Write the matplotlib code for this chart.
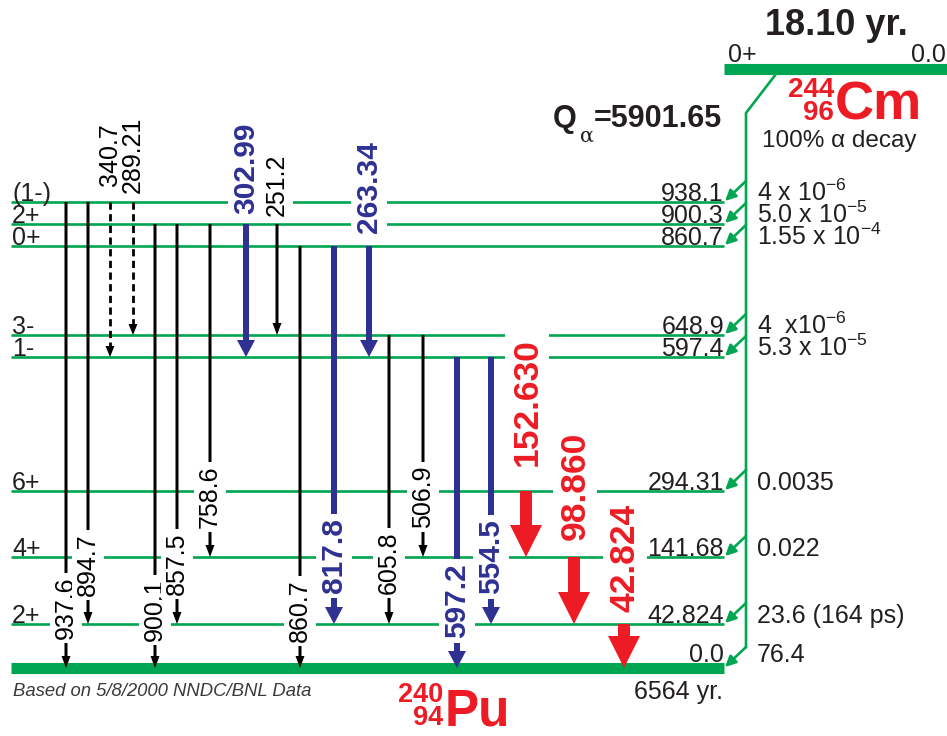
import matplotlib.pyplot as plt

plt.rcParams['font.family'] = ['Liberation Sans', 'DejaVu Sans']
plt.rcParams['mathtext.fontset'] = 'custom'
plt.rcParams['mathtext.rm'] = 'Liberation Sans'
plt.rcParams['mathtext.it'] = 'Liberation Sans:italic'
plt.rcParams['mathtext.bf'] = 'Liberation Sans:bold'

# Level data (240Pu)
level_energy = ['938.1', '900.3', '860.7', '648.9', '597.4', '294.31', '141.68', '42.824', '0.0']
level_spin = ['(1-)', '2+', '0+', '3-', '1-', '6+', '4+', '2+', '']
alpha_branch = ['4 x 10$^{-6}$', '5.0 x 10$^{-5}$', '1.55 x 10$^{-4}$', '4  x10$^{-6}$',
                '5.3 x 10$^{-5}$', '0.0035', '0.022', '23.6 (164 ps)', '76.4']

# Gamma transitions
gamma_energy = ['937.6', '894.7', '340.7', '289.21', '900.1', '857.5', '758.6', '302.99', '251.2',
                '860.7', '817.8', '263.34', '605.8', '506.9', '597.2', '554.5', '152.630', '98.860', '42.824']
gamma_from = [0, 0, 0, 0, 1, 1, 1, 1, 1, 2, 2, 2, 3, 3, 4, 4, 5, 6, 7]
gamma_to = [8, 7, 4, 3, 8, 7, 6, 4, 3, 8, 7, 4, 7, 6, 8, 7, 6, 7, 8]
gamma_kind = ['weak', 'weak', 'dashed', 'dashed', 'weak', 'weak', 'weak', 'medium', 'weak',
              'weak', 'medium', 'medium', 'weak', 'weak', 'medium', 'medium', 'strong', 'strong', 'strong']

# Layout (pixel positions of the schematic)
level_y = [202, 224, 246, 335, 357, 491, 557, 624, 668]
gamma_x = [66, 88, 110, 133, 155, 177, 210, 246, 277, 300, 334, 369, 389, 423, 457, 491, 526, 574, 624]
label_y = [608, 565, 155, 155, 610, 564, 497, 168, 185, 611, 556, 187, 563, 497, 601, 557, 402, 486, 558]

green = '#00a651'
red = '#ed1c24'
blue = '#2e3192'
ink = '#231f20'
fs = 18

styles = {
    'weak': dict(color='black', width=3, head_w=9, head_l=12, size=fs, weight='normal'),
    'dashed': dict(color='black', width=2.6, head_w=9, head_l=11, size=fs, weight='normal'),
    'medium': dict(color=blue, width=6, head_w=18, head_l=17, size=21.5, weight='bold'),
    'strong': dict(color=red, width=12, head_w=32, head_l=32, size=25.5, weight='bold'),
}

fig = plt.figure(figsize=(9.47, 7.36), dpi=100)
ax = fig.add_axes([0, 0, 1, 1])
ax.set_xlim(0, 947)
ax.set_ylim(736, 0)
ax.axis('off')

x_left, x_right = 11, 724

# levels
for i, y in enumerate(level_y):
    lw = 8 if level_energy[i] == '0.0' else 1.9
    ax.plot([x_left, x_right], [y, y], color=green, lw=lw, solid_capstyle='butt', zorder=1)
    base = y - 6 if level_energy[i] == '0.0' else y - 1
    ax.text(x_right, base, level_energy[i], ha='right', va='baseline', fontsize=fs, color=ink, zorder=2)
    ax.text(12, base, level_spin[i], ha='left', va='baseline', fontsize=fs, color=ink, zorder=2)
    ax.text(757, base, alpha_branch[i], ha='left', va='baseline', fontsize=fs, color=ink, zorder=2)

# gamma rays
for k in range(len(gamma_energy)):
    st = styles[gamma_kind[k]]
    x = gamma_x[k]
    y0 = level_y[gamma_from[k]]
    y1 = level_y[gamma_to[k]]
    if gamma_kind[k] == 'dashed':
        ax.plot([x, x], [y0, y1 - st['head_l']], color='black', lw=2.0,
                linestyle=(0, (2.6, 1.6)), zorder=3)
        ax.arrow(x, y1 - st['head_l'], 0, st['head_l'], width=0.1, head_width=st['head_w'],
                 head_length=st['head_l'], length_includes_head=True, fc='black', ec='none', zorder=3)
    else:
        ax.arrow(x, y0, 0, y1 - y0, width=st['width'], head_width=st['head_w'],
                 head_length=st['head_l'], length_includes_head=True,
                 fc=st['color'], ec='none', zorder=3)
    lx = x + 1 if gamma_kind[k] == 'strong' else x
    ax.text(lx, label_y[k], gamma_energy[k], rotation=90, ha='center', va='center',
            fontsize=st['size'], fontweight=st['weight'], color=st['color'], zorder=4,
            bbox=dict(boxstyle='square,pad=0.15', fc='white', ec='none'))

# parent level 244Cm
ax.plot([x_right, 947], [68.5, 68.5], color=green, lw=8, solid_capstyle='butt', zorder=1)
ax.text(728, 62, '0+', ha='left', va='baseline', fontsize=fs, color=ink)
ax.text(946, 62, '0.0', ha='right', va='baseline', fontsize=fs, color=ink)
ax.text(836, 35, '18.10 yr.', ha='center', va='baseline', fontsize=26, fontweight='bold', color=ink)

# alpha feeding line
feed_x = 746
ax.plot([776, feed_x, feed_x], [74, 113, level_y[-1] - 21], color=green, lw=1.9, zorder=2)
for y in level_y:
    ax.annotate('', xy=(x_right + 1, y - 1), xytext=(feed_x, y - 21),
                arrowprops=dict(arrowstyle='-|>,head_length=0.45,head_width=0.22', color=green,
                                lw=1.9, shrinkA=0, shrinkB=0, mutation_scale=14), zorder=2)

# nuclide labels
ax.text(834, 97, '244', ha='right', va='baseline', fontsize=20, fontweight='bold', color=red)
ax.text(834, 120, '96', ha='right', va='baseline', fontsize=20, fontweight='bold', color=red)
ax.text(835, 120, 'Cm', ha='left', va='baseline', fontsize=39, fontweight='bold', color=red)
ax.text(762, 147, '100% \u03b1 decay', ha='left', va='baseline', fontsize=17.5, color=ink)

ax.text(443, 702, '240', ha='right', va='baseline', fontsize=19.5, fontweight='bold', color=red)
ax.text(443, 725, '94', ha='right', va='baseline', fontsize=19.5, fontweight='bold', color=red)
ax.text(445, 726, 'Pu', ha='left', va='baseline', fontsize=37, fontweight='bold', color=red)

# Q value
ax.text(553, 127, 'Q', ha='left', va='baseline', fontsize=22, fontweight='bold', color=ink)
ax.text(580, 142, '\u03b1', ha='left', va='baseline', fontsize=15, family='DejaVu Serif', color=ink)
ax.text(722, 127, '=5901.65', ha='right', va='baseline', fontsize=22, fontweight='bold', color=ink)

ax.text(723, 699, '6564 yr.', ha='right', va='baseline', fontsize=fs, color=ink)
ax.text(13, 696, 'Based on 5/8/2000 NNDC/BNL Data', ha='left', va='baseline', fontsize=13.3,
        style='italic', color='#3a3a3a')

fig.savefig('out.png', dpi=100)
